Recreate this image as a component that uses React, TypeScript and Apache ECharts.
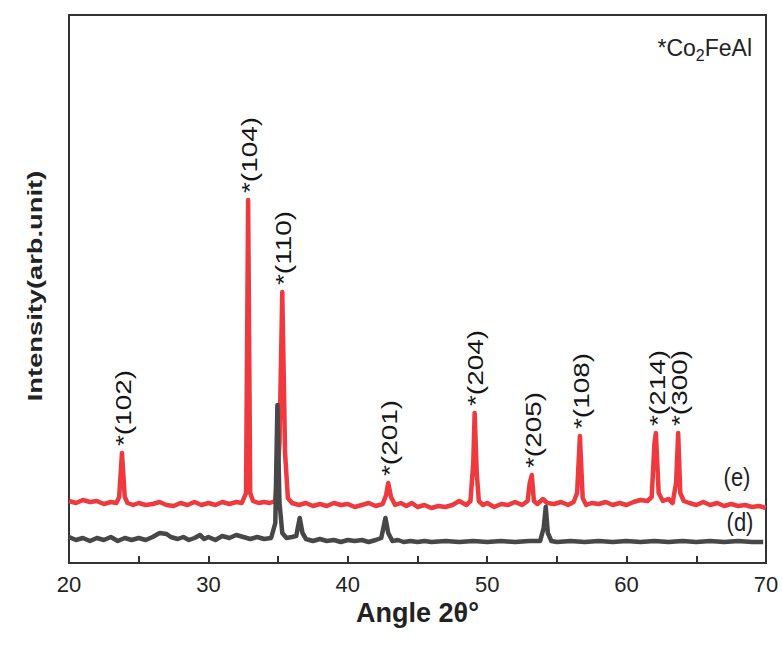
import React, { useEffect, useRef } from "react";
import * as echarts from "echarts";

// 2θ / intensity (arb.) for sample (e)
const redX = [20, 20.5, 21, 21.5, 22, 22.5, 23, 23.4, 23.6, 23.8, 24.0, 24.2, 24.6, 25, 25.5, 26, 26.5, 27, 27.5, 28, 28.5, 29, 29.5, 30, 30.5, 31, 31.5, 32, 32.4, 32.7, 32.85, 33.0, 33.2, 33.6, 34, 34.4, 34.8, 35.1, 35.3, 35.5, 35.7, 36, 36.5, 37, 37.5, 38, 38.5, 39, 39.5, 40, 40.5, 41, 41.5, 42, 42.5, 42.75, 42.9, 43.1, 43.4, 43.8, 44.2, 44.6, 45, 45.5, 46, 46.5, 47, 47.5, 48, 48.5, 48.8, 49.0, 49.1, 49.25, 49.4, 49.7, 50, 50.5, 51, 51.5, 52, 52.5, 52.9, 53.05, 53.2, 53.35, 53.6, 54, 54.3, 54.8, 55.3, 55.8, 56.2, 56.45, 56.65, 56.85, 57.1, 57.5, 58, 58.5, 59, 59.5, 60, 60.5, 61, 61.5, 61.8, 62.0, 62.1, 62.3, 62.6, 63, 63.3, 63.55, 63.7, 63.85, 64.1, 64.5, 65, 65.5, 66, 66.5, 67, 67.5, 68, 68.5, 69, 69.5, 70];
const redY = [62, 60, 63, 61, 62, 59, 61, 60, 66, 110, 66, 60, 58, 60, 58, 59, 61, 58, 57, 60, 58, 61, 58, 60, 58, 61, 59, 61, 60, 70, 363, 70, 62, 60, 61, 60, 62, 120, 271, 110, 65, 60, 58, 60, 57, 59, 57, 60, 58, 59, 56, 58, 60, 57, 59, 68, 80, 66, 58, 60, 57, 60, 56, 58, 55, 57, 56, 58, 62, 58, 62, 100, 150, 90, 62, 58, 60, 56, 59, 58, 61, 58, 62, 80, 88, 62, 59, 64, 60, 59, 61, 58, 61, 70, 127, 65, 58, 60, 59, 61, 58, 60, 58, 61, 63, 62, 66, 120, 130, 70, 62, 64, 60, 80, 130, 70, 62, 60, 58, 61, 58, 60, 57, 59, 57, 58, 56, 57, 55];

// 2θ / intensity (arb.) for sample (d)
const grayX = [20, 20.5, 21, 21.5, 22, 22.5, 23, 23.5, 24, 24.5, 25, 25.5, 26, 26.5, 27, 27.3, 27.8, 28.2, 28.6, 29, 29.4, 29.7, 30, 30.5, 31, 31.5, 32, 32.5, 33, 33.5, 34, 34.5, 34.8, 34.95, 35.1, 35.3, 35.6, 36, 36.3, 36.55, 36.75, 37, 37.5, 38, 38.5, 39, 39.5, 40, 40.5, 41, 41.5, 42, 42.4, 42.7, 42.9, 43.2, 43.6, 44, 44.5, 45, 45.5, 46, 47, 48, 49, 50, 51, 52, 53, 53.8, 54.05, 54.2, 54.35, 54.6, 55, 56, 57, 58, 59, 60, 61, 62, 63, 64, 65, 66, 67, 68, 69, 69.8];
const grayY = [26, 23, 25, 22, 25, 23, 26, 22, 25, 23, 25, 23, 26, 30, 29, 26, 24, 26, 23, 25, 28, 24, 26, 23, 27, 25, 28, 26, 24, 26, 24, 25, 40, 158, 60, 30, 25, 26, 27, 45, 30, 24, 22, 24, 22, 23, 21, 23, 22, 23, 21, 23, 25, 45, 30, 22, 23, 21, 22, 21, 22, 21, 22, 21, 22, 21, 22, 21, 22, 22, 35, 56, 30, 22, 21, 22, 21, 22, 21, 22, 21, 22, 21, 22, 21, 22, 21, 22, 21, 21];

// Indexed peaks of Co2FeAl
const peakX = [23.8, 32.85, 35.3, 42.9, 49.1, 53.2, 56.65, 62.1, 63.7];
const peakY = [110, 363, 271, 80, 150, 88, 127, 130, 130];
const peakLabels = ["*(102)", "*(104)", "*(110)", "*(201)", "*(204)", "*(205)", "*(108)", "*(214)", "*(300)"];

const xTicks = [20, 30, 40, 50, 60, 70];

const FONT = "'Liberation Sans', Arial, Helvetica, sans-serif";

export default function App() {
  const ref = useRef<HTMLDivElement>(null);
  useEffect(() => {
    if (!ref.current) return;
    const chart = echarts.init(ref.current, null, { renderer: "svg" });
    const red = redX.map((x, i) => [x, redY[i]]);
    const gray = grayX.map((x, i) => [x, grayY[i]]);
    const peaks = peakX.map((x, i) => [x, peakY[i]]);
    chart.setOption({
      animation: false,
      backgroundColor: "#ffffff",
      grid: {
        left: 69,
        right: 16,
        top: 15,
        bottom: 90,
        show: true,
        borderColor: "#333",
        borderWidth: 2,
        backgroundColor: "transparent",
      },
      xAxis: {
        type: "value",
        min: 20,
        max: 70,
        interval: 5,
        name: "Angle 2θ°",
        nameLocation: "middle",
        nameGap: 36,
        nameTextStyle: { fontFamily: FONT, fontSize: 27, fontWeight: "bold", color: "#222" },
        axisLine: { show: true, lineStyle: { color: "#333", width: 2 } },
        axisTick: { show: true, inside: true, length: 7, lineStyle: { color: "#333", width: 2 } },
        axisLabel: {
          fontFamily: FONT,
          fontSize: 22,
          color: "#222",
          margin: 10,
          formatter: (v: number) => (xTicks.indexOf(v) >= 0 ? String(v) : ""),
        },
        splitLine: { show: false },
      },
      yAxis: {
        type: "value",
        min: 0,
        max: 548,
        axisLine: { show: true, lineStyle: { color: "#333", width: 2 } },
        axisTick: { show: false },
        axisLabel: { show: false },
        splitLine: { show: false },
      },
      graphic: [
        {
          type: "text",
          x: 35,
          y: 286,
          rotation: Math.PI / 2,
          scaleX: 1.3,
          style: {
            text: "Intensity(arb.unit)",
            fontFamily: FONT,
            fontSize: 21,
            fontWeight: "bold",
            fill: "#222",
            align: "center",
            verticalAlign: "middle",
          },
        },
        {
          type: "text",
          x: 752,
          y: 48,
          style: {
            text: "{n|*Co}{s|2}{n|FeAl}",
            fontFamily: FONT,
            align: "right",
            verticalAlign: "middle",
            fill: "#222",
            rich: {
              n: { fontFamily: FONT, fontSize: 23, lineHeight: 30, fill: "#222" },
              s: { fontFamily: FONT, fontSize: 16, lineHeight: 16, verticalAlign: "bottom", fill: "#222" },
            },
          },
        },
        {
          type: "text",
          x: 737,
          y: 477,
          scaleY: 1.2,
          style: { text: "(e)", fontFamily: FONT, fontSize: 22, fill: "#222", align: "center", verticalAlign: "middle" },
        },
        {
          type: "text",
          x: 740,
          y: 522,
          scaleY: 1.2,
          style: { text: "(d)", fontFamily: FONT, fontSize: 22, fill: "#222", align: "center", verticalAlign: "middle" },
        },
      ],
      series: [
        {
          name: "(e)",
          type: "line",
          data: red,
          symbol: "none",
          lineStyle: { color: "#EE3A3E", width: 4.5, join: "round" },
          z: 2,
        },
        {
          name: "(d)",
          type: "line",
          data: gray,
          symbol: "none",
          lineStyle: { color: "#474747", width: 4.5, join: "round" },
          z: 3,
        },
        {
          name: "peaks",
          type: "custom",
          data: peaks,
          clip: false,
          z: 5,
          renderItem: (params: any, api: any) => {
            const p = api.coord([api.value(0), api.value(1)]);
            return {
              type: "text",
              x: p[0] + 1,
              y: p[1] - 7,
              rotation: Math.PI / 2,
              scaleX: 1.3,
              style: {
                text: peakLabels[params.dataIndex],
                fontFamily: FONT,
                fontSize: 21.5,
                fill: "#151515",
                align: "left",
                verticalAlign: "middle",
              },
            };
          },
        },
      ],
    });
    return () => chart.dispose();
  }, []);
  return (
    <div
      ref={ref}
      style={{ position: "fixed", left: 0, top: 0, width: 782, height: 653, background: "#fff" }}
    />
  );
}
